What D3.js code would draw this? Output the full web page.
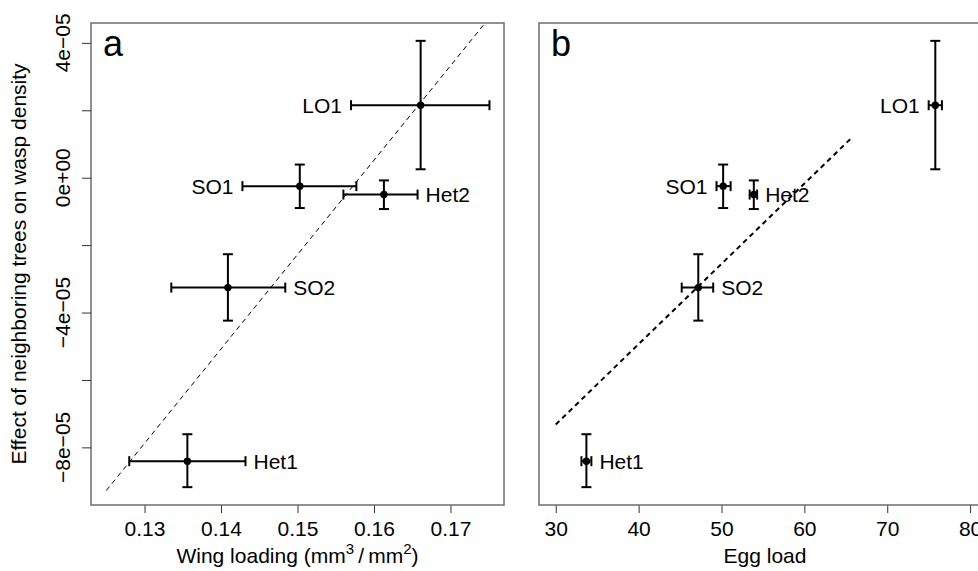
<!DOCTYPE html>
<html>
<head>
<meta charset="utf-8">
<script src="https://cdn.jsdelivr.net/npm/d3@7"></script>
<style>
  body { margin: 0; background: #fff; }
  text { font-family: "Liberation Sans", Arial, Helvetica, sans-serif; fill: #000; }
</style>
</head>
<body>
<div id="chart"></div>
<script>
// population labels and which side of the error bar the label sits on
var sites = ["LO1", "SO1", "Het2", "SO2", "Het1"];
var labelSide = ["left", "left", "right", "right", "right"];

// effect of neighboring trees on wasp density (mean and interval)
var effect   = [2.15e-5, -0.25e-5, -0.50e-5, -3.26e-5, -8.41e-5];
var effectLo = [0.25e-5, -0.90e-5, -0.93e-5, -4.24e-5, -9.18e-5];
var effectHi = [4.06e-5,  0.39e-5, -0.08e-5, -2.27e-5, -7.61e-5];

// wing loading (mm3/mm2)
var wing   = [0.1661, 0.1503, 0.1613, 0.1409, 0.1356];
var wingLo = [0.1570, 0.1428, 0.1560, 0.1335, 0.1280];
var wingHi = [0.1751, 0.1577, 0.1657, 0.1484, 0.1432];

// egg load
var egg   = [75.8, 50.2, 53.9, 47.2, 33.7];
var eggLo = [75.0, 49.4, 53.4, 45.2, 33.1];
var eggHi = [76.6, 51.1, 54.3, 49.0, 34.3];

// fitted regression lines (end points)
var fitWingX = [0.125, 0.175];
var fitWingY = [-9.28e-5, 4.72e-5];
var fitEggX = [30, 65.6];
var fitEggY = [-7.32e-5, 1.16e-5];

// tick values
var wingTicks = [0.13, 0.14, 0.15, 0.16, 0.17];
var eggTicks = [30, 40, 50, 60, 70, 80];
var yTicks = [-8e-5, -6e-5, -4e-5, -2e-5, 0, 2e-5, 4e-5];
var yTickLabels = {"-0.00008": "\u22128e\u221205", "-0.00004": "\u22124e\u221205", "0": "0e+00", "0.00004": "4e\u221205"};

var W = 978, H = 571;
var plotTop = 23, plotBottom = 505;
var fontSize = 21;

var svg = d3.select("#chart")
  .append("svg")
    .attr("width", W)
    .attr("height", H);

// R style 4% padding around the data limits
function padded(lo, hi) {
  var d = (hi - lo) * 0.04;
  return [lo - d, hi + d];
}

var y = d3.scaleLinear()
  .domain(padded(-9.18e-5, 4.06e-5))
  .range([plotBottom, plotTop]);

var xWing = d3.scaleLinear()
  .domain(padded(0.125, 0.175))
  .range([91, 504]);

var xEgg = d3.scaleLinear()
  .domain(padded(30, 80.5))
  .range([539, 991]);

function drawPanel(x, xs, xlo, xhi, ticks, fitX, fitY, fitWidth, fitDash, letter, id) {
  var r = x.range();
  var g = svg.append("g");

  // clip for the fitted line
  svg.append("clipPath").attr("id", "clip" + id)
    .append("rect")
      .attr("x", r[0]).attr("y", plotTop)
      .attr("width", r[1] - r[0]).attr("height", plotBottom - plotTop);

  // x axis ticks and labels
  var xa = g.append("g")
    .attr("transform", "translate(0," + plotBottom + ")")
    .call(d3.axisBottom(x).tickValues(ticks).tickSize(8).tickPadding(8)
      .tickFormat(function(d) { return String(+d.toFixed(2)); }));
  xa.select(".domain").remove();
  xa.selectAll("line").attr("stroke", "#333").attr("stroke-width", 1);
  xa.selectAll("text").attr("font-size", fontSize)
    .style("font-family", "'Liberation Sans', Arial, sans-serif").attr("fill", "#000");

  // fitted line
  g.append("line")
    .attr("clip-path", "url(#clip" + id + ")")
    .attr("x1", x(fitX[0])).attr("y1", y(fitY[0]))
    .attr("x2", x(fitX[1])).attr("y2", y(fitY[1]))
    .attr("stroke", "#000")
    .attr("stroke-width", fitWidth)
    .attr("stroke-dasharray", fitDash);

  var cap = 5;
  sites.forEach(function(s, i) {
    var cx = x(xs[i]), cy = y(effect[i]);
    var bars = g.append("g").attr("stroke", "#000").attr("stroke-width", 2);
    // horizontal error bar
    bars.append("line").attr("x1", x(xlo[i])).attr("x2", x(xhi[i])).attr("y1", cy).attr("y2", cy);
    bars.append("line").attr("x1", x(xlo[i])).attr("x2", x(xlo[i])).attr("y1", cy - cap).attr("y2", cy + cap);
    bars.append("line").attr("x1", x(xhi[i])).attr("x2", x(xhi[i])).attr("y1", cy - cap).attr("y2", cy + cap);
    // vertical error bar
    bars.append("line").attr("x1", cx).attr("x2", cx).attr("y1", y(effectLo[i])).attr("y2", y(effectHi[i]));
    bars.append("line").attr("x1", cx - cap).attr("x2", cx + cap).attr("y1", y(effectLo[i])).attr("y2", y(effectLo[i]));
    bars.append("line").attr("x1", cx - cap).attr("x2", cx + cap).attr("y1", y(effectHi[i])).attr("y2", y(effectHi[i]));
    // point
    g.append("circle").attr("cx", cx).attr("cy", cy).attr("r", 3.7).attr("fill", "#000");
    // label
    var left = labelSide[i] === "left";
    g.append("text")
      .attr("x", left ? x(xlo[i]) - 9 : x(xhi[i]) + 8)
      .attr("y", cy)
      .attr("dy", "0.36em")
      .attr("text-anchor", left ? "end" : "start")
      .attr("font-size", fontSize)
      .text(s);
  });

  // plot box
  g.append("rect")
    .attr("x", r[0]).attr("y", plotTop)
    .attr("width", r[1] - r[0]).attr("height", plotBottom - plotTop)
    .attr("fill", "none")
    .attr("stroke", "#6e6e6e")
    .attr("stroke-width", 1.5);

  // panel letter
  g.append("text")
    .attr("x", r[0] + 12)
    .attr("y", 56)
    .attr("font-size", 36)
    .text(letter);
}

drawPanel(xWing, wing, wingLo, wingHi, wingTicks, fitWingX, fitWingY, 1, "5,4", "a", "A");
drawPanel(xEgg, egg, eggLo, eggHi, eggTicks, fitEggX, fitEggY, 2, "5,4", "b", "B");

// y axis on the left panel
var ya = svg.append("g")
  .attr("transform", "translate(91,0)")
  .call(d3.axisLeft(y).tickValues(yTicks).tickSize(9).tickFormat(""));
ya.select(".domain").remove();
ya.selectAll("line").attr("stroke", "#333");

svg.selectAll(".ylab")
  .data(yTicks.filter(function(d) { return yTickLabels[String(+d.toFixed(6))] !== undefined; }))
  .enter()
  .append("text")
    .attr("class", "ylab")
    .attr("transform", function(d) { return "translate(70," + y(d) + ") rotate(-90)"; })
    .attr("text-anchor", "middle")
    .attr("font-size", fontSize)
    .text(function(d) { return yTickLabels[String(+d.toFixed(6))]; });

// axis titles
svg.append("text")
  .attr("transform", "translate(26," + (plotTop + plotBottom) / 2 + ") rotate(-90)")
  .attr("text-anchor", "middle")
  .attr("font-size", fontSize)
  .text("Effect of neighboring trees on wasp density");

var xt = svg.append("text")
  .attr("x", (91 + 504) / 2)
  .attr("y", 563)
  .attr("text-anchor", "middle")
  .attr("font-size", fontSize);
xt.append("tspan").text("Wing loading (mm");
xt.append("tspan").attr("font-size", 15).attr("dy", -9).text("3");
xt.append("tspan").attr("dy", 9).text("\u2009/\u2009mm");
xt.append("tspan").attr("font-size", 15).attr("dy", -9).text("2");
xt.append("tspan").attr("dy", 9).text(")");

svg.append("text")
  .attr("x", (539 + 991) / 2)
  .attr("y", 563)
  .attr("text-anchor", "middle")
  .attr("font-size", fontSize)
  .text("Egg load");
</script>
</body>
</html>
